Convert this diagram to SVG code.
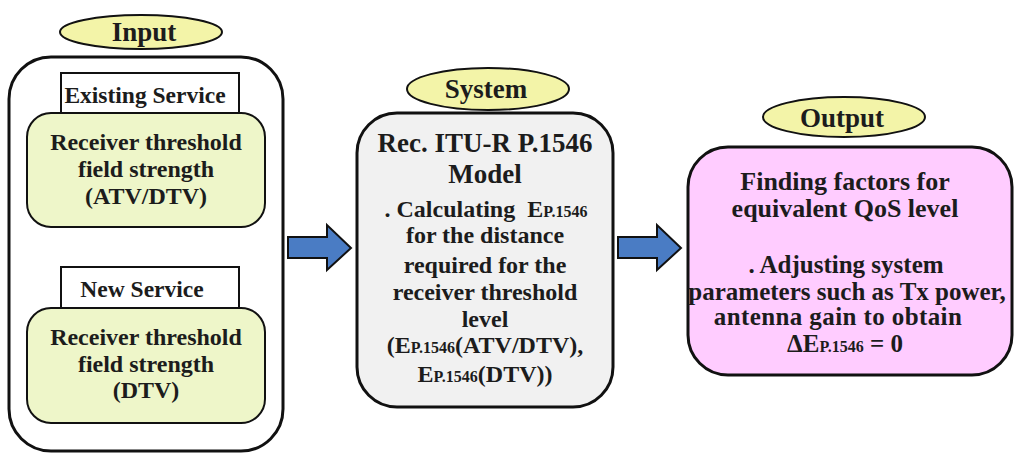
<svg xmlns="http://www.w3.org/2000/svg" width="1017" height="454" viewBox="0 0 1017 454">
<style>
text{font-weight:bold;fill:#1c1c1c;text-anchor:middle}
.lbl{font-size:27px}
.t{font-size:24px}
.s{font-size:23.5px}
.b{font-size:24px}
.o{font-size:25px}
.sub{font-size:16px}
.ell{fill:#f3f4a8;stroke:#111;stroke-width:2}
.frame{fill:#fff;stroke:#111;stroke-width:3}
.tab{fill:#fff;stroke:#111;stroke-width:2}
.green{fill:#eef6c9;stroke:#111;stroke-width:2}
.arrow{fill:#4a7cc4;stroke:#111;stroke-width:2;stroke-linejoin:miter}
</style>
<rect width="1017" height="454" fill="#fff"/>
<g font-family="Liberation Serif, Times New Roman, serif">
<g id="input">
<rect class="frame" x="9" y="57" width="274" height="394" rx="42"/>
<ellipse class="ell" cx="141" cy="32" rx="81" ry="17"/>
<text class="lbl" x="144" y="41">Input</text>
</g>
<g id="existing-service">
<rect class="tab" x="61" y="73" width="178" height="42"/>
<text class="s" x="145" y="103">Existing Service</text>
<rect class="green" x="27" y="113" width="238" height="114" rx="24"/>
<text class="t" x="146" y="150">Receiver threshold</text>
<text class="t" x="146" y="177">field strength</text>
<text class="t" x="146" y="204">(ATV/DTV)</text>
</g>
<g id="new-service">
<rect class="tab" x="61" y="267" width="178" height="43"/>
<text class="s" x="142" y="297">New Service</text>
<rect class="green" x="27" y="308" width="238" height="115" rx="24"/>
<text class="t" x="146" y="345">Receiver threshold</text>
<text class="t" x="146" y="372">field strength</text>
<text class="t" x="146" y="398">(DTV)</text>
</g>
<g id="system">
<ellipse class="ell" cx="488" cy="89" rx="81" ry="21"/>
<text class="lbl" x="486" y="98">System</text>
<rect x="357" y="113" width="256" height="294" rx="40" fill="#f1f1f1" stroke="#111" stroke-width="3"/>
<text x="485" y="152" font-size="27">Rec. ITU-R P.1546</text>
<text x="485" y="183" font-size="27">Model</text>
<text class="b" x="486" y="217" xml:space="preserve">. Calculating  E<tspan class="sub">P.1546</tspan></text>
<text class="b" x="485" y="243">for the distance</text>
<text class="b" x="485" y="273">required for the</text>
<text class="b" x="485" y="300">receiver threshold</text>
<text class="b" x="485" y="327">level</text>
<text class="b" x="485" y="353">(E<tspan class="sub">P.1546</tspan>(ATV/DTV),</text>
<text class="b" x="485" y="382">E<tspan class="sub">P.1546</tspan>(DTV))</text>
</g>
<g id="output">
<ellipse class="ell" cx="844" cy="117" rx="81" ry="20"/>
<text class="lbl" x="842" y="127">Output</text>
<rect x="688" y="147" width="324" height="228" rx="40" fill="#ffccff" stroke="#111" stroke-width="3"/>
<text x="845" y="190" font-size="26">Finding factors for</text>
<text x="845" y="217" font-size="26">equivalent QoS level</text>
<text class="o" x="846" y="273">. Adjusting system</text>
<text class="o" x="847" y="300">parameters such as Tx power,</text>
<text class="o" x="838" y="325" letter-spacing="0.4">antenna gain to obtain</text>
<text class="o" x="845" y="352">ΔE<tspan class="sub">P.1546</tspan> = 0</text>
</g>
</g>
<g id="connectors">
<polygon class="arrow" points="288,237 327,237 327,225 351,248 327,270 327,258 288,258"/>
<polygon class="arrow" points="618,237 657,237 657,225 681,248 657,270 657,258 618,258"/>
</g>
</svg>
